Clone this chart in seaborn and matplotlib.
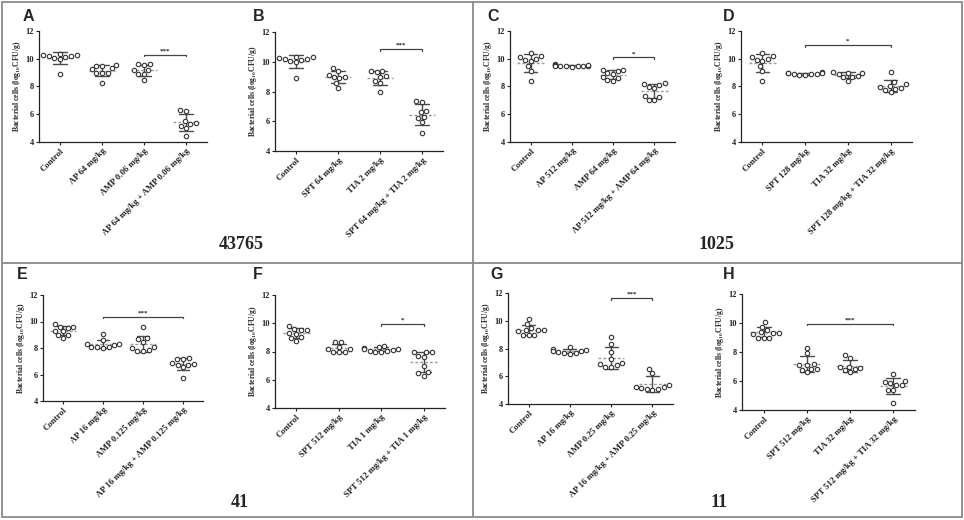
import numpy as np
import pandas as pd
import matplotlib
matplotlib.use("Agg")
import matplotlib.pyplot as plt
from matplotlib.lines import Line2D
import seaborn as sns

# ---------------- data ----------------
ctrl_43765 = [10.2, 10.35, 10.3, 10.2, 10.05, 9.95, 10.1, 10.25, 8.9]
ctrl_1025 = [10.4, 10.2, 10.15, 9.95, 9.9, 9.85, 9.45, 9.1, 8.4]
ctrl_41 = [9.8, 9.6, 9.55, 9.5, 9.3, 9.25, 9.0, 8.95, 8.75]
ctrl_11 = [10.1, 9.75, 9.5, 9.35, 9.3, 9.3, 9.25, 9.0, 9.0, 9.0]

cats_A = ["Control", "AP 64 mg/kg", "AMP 0.06 mg/kg", "AP 64 mg/kg + AMP 0.06 mg/kg"]
vals_A = [ctrl_43765,
          [9.5, 9.45, 9.55, 9.3, 9.25, 9.0, 9.0, 8.95, 8.25],
          [9.6, 9.55, 9.6, 9.2, 9.2, 8.9, 8.9, 8.45],
          [6.3, 6.25, 5.5, 5.4, 5.3, 5.15, 5.0, 4.45]]
sig_A = (2, 3, 10.3, "***")

cats_B = ["Control", "SPT 64 mg/kg", "TIA 2 mg/kg", "SPT 64 mg/kg + TIA 2 mg/kg"]
vals_B = [ctrl_43765,
          [9.55, 9.35, 9.1, 9.0, 8.95, 8.9, 8.6, 8.25],
          [9.35, 9.35, 9.3, 9.05, 9.0, 8.7, 8.55, 7.95],
          [7.35, 7.3, 6.7, 6.6, 6.3, 6.2, 5.95, 5.2]]
sig_B = (2, 3, 10.85, "***")

cats_C = ["Control", "AP 512 mg/kg", "AMP 64 mg/kg", "AP 512 mg/kg + AMP 64 mg/kg"]
vals_C = [ctrl_1025,
          [9.6, 9.55, 9.5, 9.5, 9.45, 9.45, 9.5, 9.4, 9.5, 9.55],
          [9.2, 9.2, 9.15, 8.95, 8.9, 8.7, 8.6, 8.45, 8.4],
          [8.25, 8.2, 8.1, 7.95, 7.9, 7.3, 7.25, 7.0, 7.0]]
sig_C = (2, 3, 10.1, "*")

cats_D = ["Control", "SPT 128 mg/kg", "TIA 32 mg/kg", "SPT 128 mg/kg + TIA 32 mg/kg"]
vals_D = [ctrl_1025,
          [9.0, 8.95, 9.05, 8.9, 8.85, 8.9, 8.85, 8.95, 8.9],
          [9.05, 9.0, 9.0, 8.9, 8.75, 8.7, 8.65, 8.4],
          [9.05, 8.3, 8.15, 8.0, 7.95, 7.9, 7.85, 7.75, 7.6]]
sig_D = (1, 3, 11.0, "*")

cats_E = ["Control", "AP 16 mg/kg", "AMP 0.125 mg/kg", "AP 16 mg/kg + AMP 0.125 mg/kg"]
vals_E = [ctrl_41,
          [9.05, 8.6, 8.3, 8.3, 8.25, 8.1, 8.05, 8.05, 8.0],
          [9.6, 8.75, 8.7, 8.45, 8.05, 8.0, 7.85, 7.8, 7.75],
          [7.25, 7.2, 7.15, 6.85, 6.8, 6.75, 6.7, 6.55, 5.75]]
sig_E = (1, 3, 10.35, "***")

cats_F = ["Control", "SPT 512 mg/kg", "TIA 1 mg/kg", "SPT 512 mg/kg + TIA 1 mg/kg"]
vals_F = [ctrl_41,
          [8.7, 8.65, 8.35, 8.2, 8.2, 8.0, 8.0, 7.95],
          [8.4, 8.35, 8.25, 8.2, 8.15, 8.1, 8.05, 8.0, 8.0, 8.05],
          [8.0, 7.95, 7.95, 7.7, 7.6, 6.95, 6.55, 6.45, 6.3]]
sig_F = (2, 3, 9.95, "*")

cats_G = ["Control", "AP 16 mg/kg", "AMP 0.25 mg/kg", "AP 16 mg/kg + AMP 0.25 mg/kg"]
vals_G = [ctrl_11,
          [8.1, 7.95, 7.9, 7.85, 7.8, 7.75, 7.7, 7.65, 7.6],
          [8.85, 8.35, 7.75, 7.25, 6.95, 6.85, 6.8, 6.65, 6.65],
          [6.55, 6.25, 5.35, 5.25, 5.2, 5.15, 5.1, 5.05, 5.0]]
sig_G = (2, 3, 11.65, "***")

cats_H = ["Control", "SPT 512 mg/kg", "TIA 32 mg/kg", "SPT 512 mg/kg + TIA 32 mg/kg"]
vals_H = [ctrl_11,
          [8.3, 7.9, 7.2, 7.1, 7.1, 6.85, 6.85, 6.75, 6.6],
          [7.8, 7.6, 7.0, 6.95, 6.9, 6.85, 6.75, 6.6],
          [6.5, 6.0, 5.95, 5.85, 5.7, 5.7, 5.4, 5.35, 4.5]]
sig_H = (1, 3, 9.95, "***")

strains = ["43765", "1025", "41", "11"]
y_ticks = [4, 6, 8, 10, 12]

# ---------------- style ----------------
sns.set_theme(style="ticks")
plt.rcParams["font.family"] = ["Liberation Serif", "DejaVu Serif"]
plt.rcParams["mathtext.fontset"] = "stix"

W, H = 964, 520
fig = plt.figure(figsize=(W / 100, H / 100), dpi=100)


def rect(x0, y0, x1, y1):
    return [x0 / W, 1 - y1 / H, (x1 - x0) / W, (y1 - y0) / H]


panels = [
    ("A", cats_A, vals_A, sig_A, (39, 31, 207, 142), (23, 9)),
    ("B", cats_B, vals_B, sig_B, (275, 32, 443, 151), (253, 9)),
    ("C", cats_C, vals_C, sig_C, (510, 31, 675, 142), (487, 9)),
    ("D", cats_D, vals_D, sig_D, (741, 31, 912, 142), (723, 9)),
    ("E", cats_E, vals_E, sig_E, (43, 295, 203, 401), (17, 267)),
    ("F", cats_F, vals_F, sig_F, (275, 295, 445, 408), (253, 267)),
    ("G", cats_G, vals_G, sig_G, (508, 293, 673, 404), (490, 267)),
    ("H", cats_H, vals_H, sig_H, (742, 294, 915, 410), (723, 267)),
]

for letter, cats, vals, sig, r, lpos in panels:
    ax = fig.add_axes(rect(*r))
    df = pd.DataFrame({
        "group": np.repeat(cats, [len(v) for v in vals]),
        "value": np.concatenate([np.asarray(v, float) for v in vals]),
    })
    sns.pointplot(data=df, x="group", y="value", order=cats, ax=ax,
                  errorbar="sd", linestyle="none", marker="none",
                  capsize=0.32, color="#4a4a4a",
                  err_kws={"linewidth": 1.0}, zorder=2)
    means = df.groupby("group")["value"].mean().reindex(cats).values
    pos = np.arange(len(cats))
    ax.hlines(means, pos - 0.32, pos + 0.32, colors="#9a9a9a",
              linestyles=(0, (2.0, 1.5)), lw=1.0, zorder=2)
    sns.swarmplot(data=df, x="group", y="value", order=cats, ax=ax,
                  size=3.2, color="white", edgecolor="#333333",
                  linewidth=0.8, zorder=3)

    ax.set_xlim(-0.5, 3.5)
    ax.set_ylim(4, 12)
    ax.set_yticks(y_ticks)
    ax.set_yticklabels([str(t) for t in y_ticks], fontsize=6, fontweight="bold")
    ax.set_xticks(pos)
    ax.set_xticklabels(cats, rotation=45, ha="right", rotation_mode="anchor",
                       fontsize=6.3, fontweight="bold")
    ax.tick_params(axis="both", length=2, width=0.8, pad=1.5, colors="#222222")
    ax.set_xlabel("")
    ax.set_ylabel(r"Bacterial cells (log$_{\mathbf{10}}$CFU/g)", fontsize=5.5,
                  fontweight="bold", labelpad=2)
    for s in ["top", "right"]:
        ax.spines[s].set_visible(False)
    for s in ["left", "bottom"]:
        ax.spines[s].set_linewidth(0.9)
        ax.spines[s].set_color("#222222")

    x1, x2, yb, stars = sig
    ax.plot([x1, x1, x2, x2], [yb - 0.12, yb, yb, yb - 0.12], color="#444444",
            lw=0.9, clip_on=False)
    ax.text((x1 + x2) / 2, yb + 0.08, stars, ha="center", va="bottom",
            fontsize=5, fontweight="bold", color="#222222")

    fig.text(lpos[0] / W, 1 - lpos[1] / H, letter, ha="left", va="top",
             fontsize=11.5, fontweight="bold", family="Liberation Sans")

# strain numbers
for txt, (cx, by) in zip(strains, [(241, 249), (716, 249), (240, 507), (719, 507)]):
    fig.text(cx / W, 1 - by / H, txt, ha="center", va="baseline",
             fontsize=13, fontweight="bold")

# box borders
grey = "#8a8a8a"
for xs, ys in [((2, 962), (2, 2)), ((2, 962), (517, 517)), ((2, 2), (2, 517)),
               ((962, 962), (2, 517)), ((473, 473), (2, 517)), ((2, 962), (263, 263))]:
    fig.add_artist(Line2D([x / W for x in xs], [1 - y / H for y in ys],
                          color=grey, lw=1.3))

fig.savefig("out.png", dpi=100)
